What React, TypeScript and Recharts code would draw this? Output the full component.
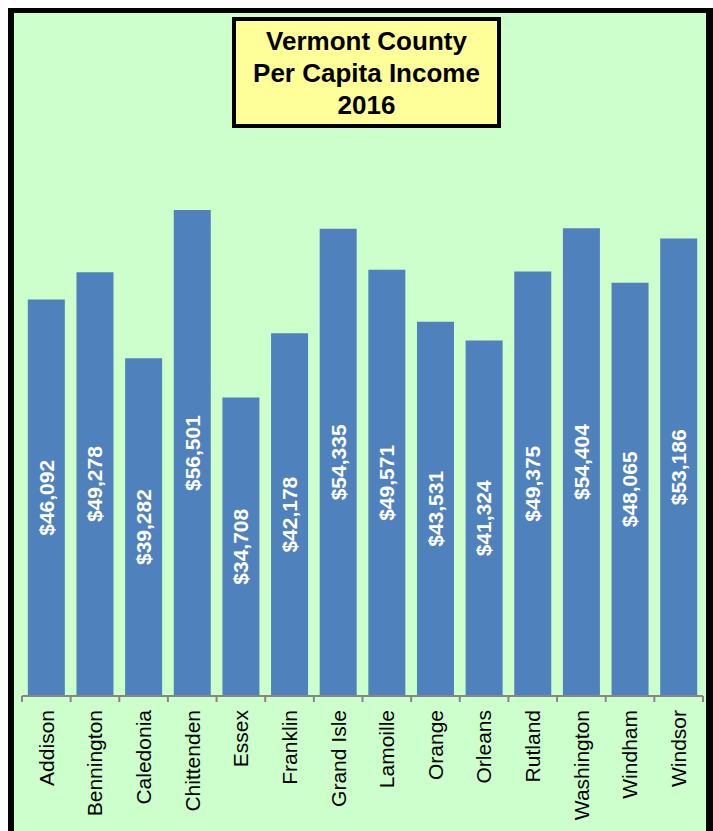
import { Bar, BarChart, LabelList, XAxis, YAxis } from 'recharts';

const counties = [
  'Addison', 'Bennington', 'Caledonia', 'Chittenden', 'Essex', 'Franklin', 'Grand Isle',
  'Lamoille', 'Orange', 'Orleans', 'Rutland', 'Washington', 'Windham', 'Windsor',
];
const income = [
  46092, 49278, 39282, 56501, 34708, 42178, 54335,
  49571, 43531, 41324, 49375, 54404, 48065, 53186,
];
const titleLines = ['Vermont County', 'Per Capita Income', '2016'];

const chartData = counties.map((name, i) => ({ name, value: income[i] }));

const FONT = 'Arial, "Liberation Sans", Helvetica, sans-serif';

const CountyTick = (props: any) => {
  const { x, y, payload, index, visibleTicksCount } = props;
  const half = payload?.offset ?? 681 / 28;
  const top = y - 6;
  return (
    <g>
      <line x1={x - half} y1={top} x2={x - half} y2={y} stroke="#868686" strokeWidth={2} />
      {index === visibleTicksCount - 1 && (
        <line x1={x + half} y1={top} x2={x + half} y2={y} stroke="#868686" strokeWidth={2} />
      )}
      <text
        transform={`translate(${x}, ${y + 8}) rotate(-90)`}
        textAnchor="end"
        dy="0.35em"
        fontSize={21}
        fontFamily={FONT}
        fill="#000"
      >
        {payload.value}
      </text>
    </g>
  );
};

const ValueLabel = (props: any) => {
  const { x, y, width, height, value } = props;
  const cx = x + width / 2;
  const cy = y + height / 2;
  return (
    <text
      x={cx}
      y={cy}
      transform={`rotate(-90, ${cx}, ${cy})`}
      textAnchor="middle"
      dy="0.35em"
      fontSize={21}
      fontWeight="bold"
      fontFamily={FONT}
      fill="#fff"
    >
      {'$' + Number(value).toLocaleString('en-US')}
    </text>
  );
};

export default function App() {
  return (
    <div
      style={{
        position: 'fixed',
        left: 8,
        top: 8,
        width: 705,
        height: 823,
        background: '#CCFFCC',
        overflow: 'hidden',
      }}
    >
      <BarChart
        width={705}
        height={823}
        data={chartData}
        margin={{ top: 172, right: 10, bottom: 0, left: 14 }}
        barCategoryGap="12%"
      >
        <YAxis hide domain={[0, 60000]} />
        <XAxis
          dataKey="name"
          height={135}
          interval={0}
          tickSize={6}
          tickMargin={0}
          tickLine={false}
          axisLine={{ stroke: '#868686', strokeWidth: 2 }}
          tick={<CountyTick />}
        />
        <Bar dataKey="value" fill="#4F81BD" isAnimationActive={false}>
          <LabelList dataKey="value" position="center" content={<ValueLabel />} />
        </Bar>
      </BarChart>
      <div
        style={{
          position: 'absolute',
          left: 224,
          top: 9,
          width: 269,
          height: 111,
          boxSizing: 'border-box',
          border: '4px solid #000',
          background: '#FFFF99',
          paddingTop: 4,
          textAlign: 'center',
          fontFamily: FONT,
          fontWeight: 'bold',
          fontSize: 26,
          lineHeight: '32px',
          color: '#000',
        }}
      >
        {titleLines.map((line) => (
          <div key={line}>{line}</div>
        ))}
      </div>
      <div
        style={{
          position: 'absolute',
          inset: 0,
          borderTop: '5px solid #000',
          borderLeft: '6px solid #000',
          borderRight: '7px solid #000',
          pointerEvents: 'none',
        }}
      />
    </div>
  );
}
